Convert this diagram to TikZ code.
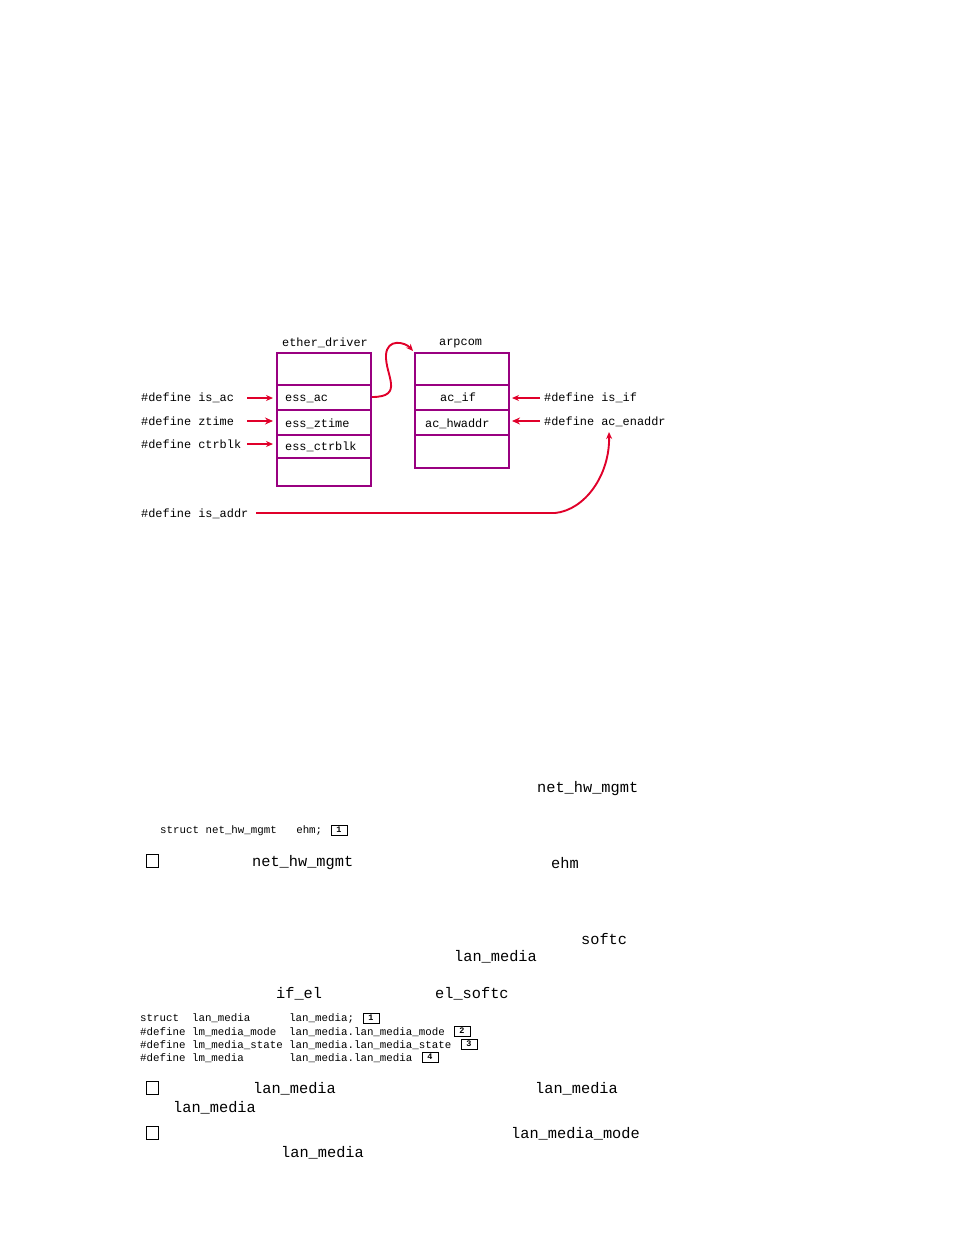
\documentclass[tikz,border=0pt]{standalone}
\usepackage{fontspec}
\setmonofont{Liberation Mono}
\usetikzlibrary{arrows.meta}
\definecolor{pur}{HTML}{990080}
\definecolor{rd}{HTML}{E0002A}
\begin{document}
\begin{tikzpicture}[x=1pt,y=-1pt,
  lab/.style={font=\ttfamily\fontsize{11.9}{12}\selectfont,inner sep=0pt,anchor=west,yshift=-1.5pt},
  big/.style={font=\ttfamily\fontsize{15.3}{16}\selectfont,inner sep=0pt,anchor=west,yshift=-2pt},
  sm/.style={font=\ttfamily\fontsize{10.8}{11}\selectfont,inner sep=0pt,anchor=west,yshift=-1pt},
  box/.style={draw=pur,line width=2.8pt},
  sep/.style={draw=pur,line width=2.2pt},
  arr/.style={draw=rd,line width=1.6pt,-{Stealth[length=7pt,width=6pt]}},
  arrb/.style={draw=rd,line width=2.6pt,-{Stealth[length=8pt,width=7pt]}},
  num/.style={draw,line width=1pt,font=\ttfamily\bfseries\fontsize{8.5}{8}\selectfont,inner sep=0pt,minimum width=16pt,minimum height=10pt},
  chk/.style={draw,line width=0.9pt,minimum width=12pt,minimum height=13pt,inner sep=0pt}]
\useasboundingbox (0,0) rectangle (954,1235);
\draw[box] (277,353) rectangle (371,486);
\foreach \y in {385,410,435,458} \draw[sep] (277,\y) -- (371,\y);
\draw[box] (415,353) rectangle (509,468);
\foreach \y in {385,410,435} \draw[sep] (415,\y) -- (509,\y);
\node[lab] (ed) at (282,341) {ether\_driver};
\node[lab] (ap) at (439,342) {arpcom};
\node[lab] (essac) at (285,397) {ess\_ac};
\node[lab] (esszt) at (285,422) {ess\_ztime};
\node[lab] (esscb) at (285,445) {ess\_ctrblk};
\node[lab] (acif) at (440,396) {ac\_if};
\node[lab] (achw) at (425,422) {ac\_hwaddr};
\node[lab] (dac) at (141,396) {\#define is\_ac};
\node[lab] (dzt) at (141,420) {\#define ztime};
\node[lab] (dcb) at (141,443) {\#define ctrblk};
\node[lab] (dif) at (544,396) {\#define is\_if};
\node[lab] (den) at (544,420) {\#define ac\_enaddr};
\node[lab] (dad) at (141,512) {\#define is\_addr};
\coordinate (a1) at (247,398); \coordinate (b1) at (273,398);
\coordinate (a2) at (247,421); \coordinate (b2) at (273,421);
\coordinate (a3) at (247,444); \coordinate (b3) at (273,444);
\coordinate (a4) at (540,398); \coordinate (b4) at (512,398);
\coordinate (a5) at (540,421); \coordinate (b5) at (512,421);
\draw[arr] (a1) -- (b1);
\draw[arrb] (a2) -- (b2);
\draw[arr] (a3) -- (b3);
\draw[arr] (a4) -- (b4);
\draw[arrb] (a5) -- (b5);
\coordinate (c0) at (372,397); \coordinate (c1) at (413,351);
\draw[arr,line width=1.9pt] (c0) .. controls (405,397) and (385,375) .. (386,355) .. controls (387,338) and (405,342) .. (c1);
\coordinate (d0) at (256,513); \coordinate (d1) at (609,432);
\draw[arr,line width=1.9pt] (d0) -- (555,513) .. controls (585,510) and (610,475) .. (d1);
\node[big] at (537,787) {net\_hw\_mgmt};
\node[sm] at (160,830) {struct net\_hw\_mgmt~~~ehm;};
\node[num] at (339,830) {1};
\node[chk] at (152,861) {};
\node[big] at (252,861) {net\_hw\_mgmt};
\node[big] at (551,861) {ehm};
\node[big] at (581,937) {softc};
\node[big] at (454,955) {lan\_media};
\node[big] at (276,992) {if\_el};
\node[big] at (435,992) {el\_softc};
\node[sm] at (140,1018) {struct~~lan\_media~~~~~~lan\_media;};
\node[num] at (371,1018) {1};
\node[sm] at (140,1031) {\#define lm\_media\_mode~~lan\_media.lan\_media\_mode};
\node[num] at (462,1031) {2};
\node[sm] at (140,1044) {\#define lm\_media\_state lan\_media.lan\_media\_state};
\node[num] at (469,1044) {3};
\node[sm] at (140,1057) {\#define lm\_media~~~~~~~lan\_media.lan\_media};
\node[num] at (430,1057) {4};
\node[chk] at (152,1088) {};
\node[big] at (253,1087) {lan\_media};
\node[big] at (535,1087) {lan\_media};
\node[big] at (173,1106) {lan\_media};
\node[chk] at (152,1133) {};
\node[big] at (511,1132) {lan\_media\_mode};
\node[big] at (281,1151) {lan\_media};
\end{tikzpicture}
\end{document}
